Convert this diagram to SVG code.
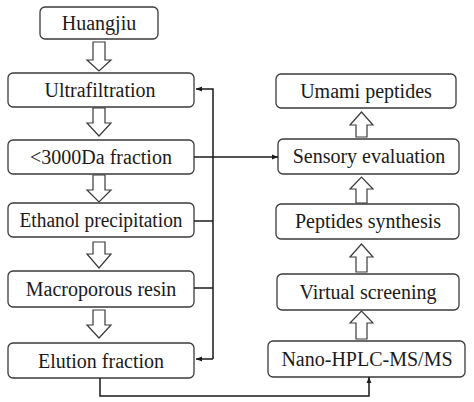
<svg xmlns="http://www.w3.org/2000/svg" width="474" height="402" viewBox="0 0 474 402">
<defs>
<style>
.box{fill:#fff;stroke:#3a3a3a;stroke-width:1.3}
.lbl{font-family:"Liberation Serif","Times New Roman",serif;font-size:20px;fill:#1a1a1a;text-anchor:middle}
.flow{fill:#fff;stroke:#3a3a3a;stroke-width:1.2;stroke-linejoin:miter}
.con{fill:none;stroke:#1a1a1a;stroke-width:1.5}
</style>
<marker id="ah" viewBox="0 0 10 10" refX="10" refY="5" markerWidth="6" markerHeight="6" markerUnits="userSpaceOnUse" orient="auto">
<path d="M0,1 L10,5 L0,9 Z" fill="#1a1a1a"/>
</marker>
</defs>
<rect width="474" height="402" fill="#fff"/>

<g id="huangjiu"><rect class="box" x="40" y="7" width="118" height="32" rx="5"/><text class="lbl" x="99" y="30">Huangjiu</text></g>
<g id="ultrafiltration"><rect class="box" x="8" y="73" width="186" height="34" rx="5"/><text class="lbl" x="100" y="97">Ultrafiltration</text></g>
<g id="fraction3000"><rect class="box" x="8" y="140" width="186" height="34" rx="5"/><text class="lbl" x="101" y="164">&lt;3000Da fraction</text></g>
<g id="ethanol"><rect class="box" x="8" y="203" width="186" height="34" rx="5"/><text class="lbl" x="101" y="227" textLength="163" lengthAdjust="spacingAndGlyphs">Ethanol precipitation</text></g>
<g id="macroporous"><rect class="box" x="8" y="271" width="186" height="36" rx="5"/><text class="lbl" x="101" y="296">Macroporous resin</text></g>
<g id="elution"><rect class="box" x="8" y="343" width="186" height="35" rx="5"/><text class="lbl" x="101" y="368">Elution fraction</text></g>

<g id="umami"><rect class="box" x="276" y="74" width="180" height="34" rx="5"/><text class="lbl" x="366" y="98">Umami peptides</text></g>
<g id="sensory"><rect class="box" x="278" y="139" width="181" height="35" rx="5"/><text class="lbl" x="369" y="163">Sensory evaluation</text></g>
<g id="synthesis"><rect class="box" x="276" y="204" width="183" height="35" rx="5"/><text class="lbl" x="368" y="228">Peptides synthesis</text></g>
<g id="virtual"><rect class="box" x="277" y="274" width="182" height="36" rx="5"/><text class="lbl" x="368" y="299">Virtual screening</text></g>
<g id="nano"><rect class="box" x="268" y="341" width="197" height="36" rx="5"/><text class="lbl" x="367" y="366">Nano-HPLC-MS/MS</text></g>

<g id="connectors">
<!-- hollow down arrows (left column) -->
<path class="flow" d="M93,42 H105 V60 H111 L99,71 L87,60 H93 Z"/>
<path class="flow" d="M93,108 H105 V123 H111 L99,136 L87,123 H93 Z"/>
<path class="flow" d="M93,175 H105 V190 H111 L99,202 L87,190 H93 Z"/>
<path class="flow" d="M93,242 H105 V254 H111 L99,268 L87,254 H93 Z"/>
<path class="flow" d="M93,310 H105 V325 H111 L99,338 L87,325 H93 Z"/>
<!-- hollow up arrows (right column) -->
<path class="flow" d="M356,137 H367 V125 H373 L361.5,112 L350,125 H356 Z"/>
<path class="flow" d="M356,203 H367 V189 H373 L361.5,177 L350,189 H356 Z"/>
<path class="flow" d="M356,272 H367 V257 H373 L361.5,244 L350,257 H356 Z"/>
<path class="flow" d="M356,339 H367 V323 H373 L361.5,311 L350,323 H356 Z"/>
<!-- feedback line -->
<path class="con" d="M213,359 V89 H196" marker-end="url(#ah)"/>
<path class="con" d="M213,359 H196" marker-end="url(#ah)"/>
<path class="con" d="M194,221 H213"/>
<path class="con" d="M194,288 H213"/>
<!-- <3000Da to sensory -->
<path class="con" d="M194,157 H278" marker-end="url(#ah)"/>
<!-- elution to nano -->
<path class="con" d="M100,378 V396 H369 V377" marker-end="url(#ah)"/>
</g>
</svg>
